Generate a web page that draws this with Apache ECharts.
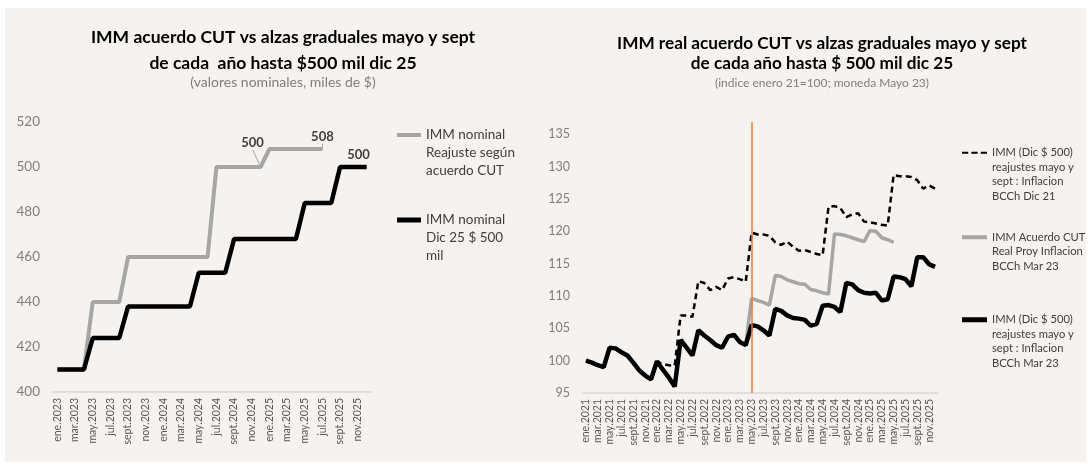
<!DOCTYPE html>
<html>
<head>
<meta charset="utf-8">
<script src="https://cdn.jsdelivr.net/npm/echarts@6/dist/echarts.min.js"></script>
<style>
html, body { margin: 0; padding: 0; background: #fff; }
#bg { position: absolute; left: 5px; top: 8px; width: 1081px; height: 454px; background: #f5f2ef; }
#chart { position: absolute; left: 0; top: 0; width: 1091px; height: 471px; }
</style>
</head>
<body>
<div id="bg"></div>
<div id="chart"></div>
<script>
const monthNames = ['ene', 'feb', 'mar', 'abr', 'may', 'jun', 'jul', 'ago', 'sept', 'oct', 'nov', 'dic']

// etiquetas de meses entre dos años
function monthLabels(fromYear, toYear) {
  const out = []
  for (let y = fromYear; y <= toYear; y++) {
    for (const m of monthNames) out.push(m + '.' + y)
  }
  return out
}

// grafico izquierdo: ene.2023 - dic.2025 (miles de $)
const leftMonths = monthLabels(2023, 2025)
const cutNominal = [410, 410, 410, 410, 440, 440, 440, 440, 460, 460, 460, 460,
  460, 460, 460, 460, 460, 460, 500, 500, 500, 500, 500, 500,
  508, 508, 508, 508, 508, 508, 508, null, null, null, null, null]
const gradNominal = [410, 410, 410, 410, 424, 424, 424, 424, 438, 438, 438, 438,
  438, 438, 438, 438, 453, 453, 453, 453, 468, 468, 468, 468,
  468, 468, 468, 468, 484, 484, 484, 484, 500, 500, 500, 500]
const leftTicks = [400, 420, 440, 460, 480, 500, 520]

// grafico derecho: ene.2021 - dic.2025 (indice ene 21 = 100)
const rightMonths = monthLabels(2021, 2025)
const realDic21 = [100, 99.7, 99.3, 99.0, 102.0, 101.9, 101.3, 100.8, 99.7, 98.5, 97.7, 97.1,
  99.8, 99.5, 99.3, 99.2, 107.0, 107.0, 106.8, 112.3, 112.0, 110.9, 111.4, 110.9,
  112.7, 112.9, 112.6, 112.2, 119.8, 119.5, 119.5, 119.3, 118.3, 117.9, 118.4, 117.6,
  117.0, 117.1, 116.8, 116.5, 116.3, 123.8, 123.9, 123.6, 122.2, 122.6, 122.8, 121.5,
  121.4, 121.2, 121.0, 120.9, 128.7, 128.5, 128.5, 128.4, 127.9, 126.6, 127.1, 126.6]
const realCUT = [null, null, null, null, null, null, null, null, null, null, null, null,
  null, null, null, null, null, null, null, null, null, null, null, null,
  null, null, null, 102.4, 109.6, 109.3, 109.0, 108.6, 113.2, 113.0, 112.5, 112.2,
  111.9, 111.8, 111.0, 110.8, 110.5, 110.3, 119.6, 119.5, 119.3, 119.0, 118.7, 118.4,
  120.1, 120.0, 119.0, 118.7, 118.3, null, null, null, null, null, null, null]
const realMar23 = [100, 99.7, 99.3, 99.0, 102.0, 101.9, 101.3, 100.8, 99.7, 98.5, 97.7, 97.1,
  99.9, 98.6, 97.4, 96.0, 103.2, 102.0, 100.8, 104.7, 103.9, 103.2, 102.4, 102.0,
  103.7, 104.0, 102.9, 102.4, 105.5, 105.3, 104.7, 103.9, 108.0, 107.7, 107.0, 106.6,
  106.5, 106.3, 105.4, 105.7, 108.5, 108.6, 108.3, 107.5, 112.0, 111.8, 110.9, 110.5,
  110.4, 110.5, 109.3, 109.5, 113.0, 112.9, 112.6, 111.5, 116.0, 116.0, 114.9, 114.5]
const rightTicks = [95, 100, 105, 110, 115, 120, 125, 130, 135]
const rightAxisTop = 136.9 // la linea naranja sobresale del eje
const markerMonth = 'may.2023'

const names = {
  cutNom: 'IMM nominal\nReajuste según\nacuerdo CUT',
  gradNom: 'IMM nominal\nDic 25 $ 500\nmil',
  dic21: 'IMM (Dic $ 500)\nreajustes mayo y\nsept : Inflacion\nBCCh Dic 21',
  cutReal: 'IMM Acuerdo CUT\nReal Proy Inflacion\nBCCh Mar 23',
  mar23: 'IMM (Dic $ 500) \nreajustes mayo y\nsept : Inflacion\nBCCh Mar 23'
}

const FONT = 'Lato'
const GRAY = '#a6a6a6'
const dataLabel = { show: true, fontFamily: FONT, fontSize: 13, fontWeight: 'bold', color: '#404040', position: 'top' }
const DASH_ICON = 'path://M0,0h6v2h-6z M9,0h6v2h-6z M18,0h6v2h-6z'

// leyenda de un solo item; lineas vacias arriba para que el icono quede en la 1a linea
function legendAt(name, icon, left, top, size, lh, w, h) {
  const lines = name.split('\n').length
  return {
    data: [{ name: name, icon: icon }], left: left, top: top, padding: 0,
    itemWidth: w, itemHeight: h, selectedMode: false,
    formatter: function (n) { return '\n'.repeat(lines - 1) + n },
    textStyle: { fontFamily: FONT, fontSize: size, lineHeight: lh, color: '#404040' }
  }
}

function labelled(v, extra) {
  return { value: v, symbol: 'circle', symbolSize: 1, label: Object.assign({}, dataLabel, extra || {}) }
}

const chart = echarts.init(document.getElementById('chart'))
chart.setOption({
  backgroundColor: 'transparent',
  animation: false,
  textStyle: { fontFamily: FONT },
  title: [
    {
      text: 'IMM acuerdo CUT vs alzas graduales mayo y sept\nde cada  año hasta $500 mil dic 25',
      subtext: '(valores nominales, miles de $)',
      left: 283, top: 24, textAlign: 'center', padding: 0, itemGap: -3,
      textStyle: { fontFamily: FONT, fontSize: 17.5, fontWeight: 'bold', color: '#000', lineHeight: 26 },
      subtextStyle: { fontFamily: FONT, fontSize: 14, color: '#7f7f7f', lineHeight: 18 }
    },
    {
      text: 'IMM real acuerdo CUT vs alzas graduales mayo y sept\nde cada año hasta $ 500 mil dic 25',
      subtext: '(indice enero 21=100; moneda Mayo 23)',
      left: 822, top: 33, textAlign: 'center', padding: 0, itemGap: 3,
      textStyle: { fontFamily: FONT, fontSize: 17.2, fontWeight: 'bold', color: '#000', lineHeight: 20 },
      subtextStyle: { fontFamily: FONT, fontSize: 12, color: '#7f7f7f', lineHeight: 14 }
    }
  ],
  legend: [
    legendAt(names.cutNom, 'rect', 397, 90, 13.5, 18, 24, 4),
    legendAt(names.gradNom, 'rect', 397, 175, 13.5, 18, 24, 5),
    legendAt(names.dic21, DASH_ICON, 962, 102, 11.2, 14.5, 25, 2.5),
    legendAt(names.cutReal, 'rect', 962, 201, 11.2, 14.5, 25, 4),
    legendAt(names.mar23, 'rect', 962, 269, 11.2, 14.5, 25, 5)
  ],
  grid: [
    { left: 53, right: 720, top: 122, bottom: 79 },
    { left: 583, right: 153, top: 122, bottom: 78 }
  ],
  xAxis: [0, 1].map(function (g) {
    return {
      type: 'category', gridIndex: g, data: g === 0 ? leftMonths : rightMonths, boundaryGap: true,
      axisTick: { show: false },
      axisLine: { lineStyle: { color: '#d9d9d9', width: 1.5 } },
      axisLabel: { rotate: 90, interval: 1, fontFamily: FONT, fontSize: 10.5, color: '#595959', margin: 6 }
    }
  }),
  yAxis: [
    {
      type: 'value', gridIndex: 0, min: leftTicks[0], max: leftTicks[leftTicks.length - 1], interval: 20,
      splitLine: { show: false }, axisLine: { show: false }, axisTick: { show: false },
      axisLabel: { fontFamily: FONT, fontSize: 13.5, color: '#7f7f7f', margin: 13 }
    },
    {
      type: 'value', gridIndex: 1, min: rightTicks[0], max: rightAxisTop,
      splitLine: { show: false }, axisLine: { show: false }, axisTick: { show: false },
      axisLabel: { customValues: rightTicks, fontFamily: FONT, fontSize: 12.5, color: '#7f7f7f', margin: 13 }
    }
  ],
  series: [
    {
      name: names.cutNom, type: 'line', xAxisIndex: 0, yAxisIndex: 0, symbol: 'none', showAllSymbol: true,
      lineStyle: { color: GRAY, width: 4 }, itemStyle: { color: GRAY },
      data: cutNominal.map(function (v, i) {
        if (i === 23) return labelled(v)
        if (i === 30) return labelled(v, { offset: [0, -3] })
        return v
      }),
      labelLayout: function (p) {
        if (p.dataIndex === 23) return { dx: -8, dy: -12 }
      },
      labelLine: { show: true, lineStyle: { color: GRAY, width: 1 } }
    },
    {
      name: names.gradNom, type: 'line', xAxisIndex: 0, yAxisIndex: 0, symbol: 'none', showAllSymbol: true,
      lineStyle: { color: '#000', width: 4.5 }, itemStyle: { color: '#000' },
      data: gradNominal.map(function (v, i) {
        return i === 35 ? labelled(v, { offset: [-8, 0] }) : v
      })
    },
    {
      name: names.dic21, type: 'line', xAxisIndex: 1, yAxisIndex: 1, symbol: 'none',
      lineStyle: { color: '#000', width: 2.5, type: [6, 4] }, itemStyle: { color: '#000' },
      data: realDic21,
      markLine: {
        silent: true, symbol: 'none', label: { show: false },
        lineStyle: { color: '#ed7d31', width: 1.5, type: 'solid' },
        data: [{ xAxis: markerMonth }]
      }
    },
    {
      name: names.cutReal, type: 'line', xAxisIndex: 1, yAxisIndex: 1, symbol: 'none',
      lineStyle: { color: GRAY, width: 3.5 }, itemStyle: { color: GRAY },
      data: realCUT
    },
    {
      name: names.mar23, type: 'line', xAxisIndex: 1, yAxisIndex: 1, symbol: 'none',
      lineStyle: { color: '#000', width: 4.5 }, itemStyle: { color: '#000' },
      data: realMar23
    }
  ]
})
</script>
</body>
</html>
